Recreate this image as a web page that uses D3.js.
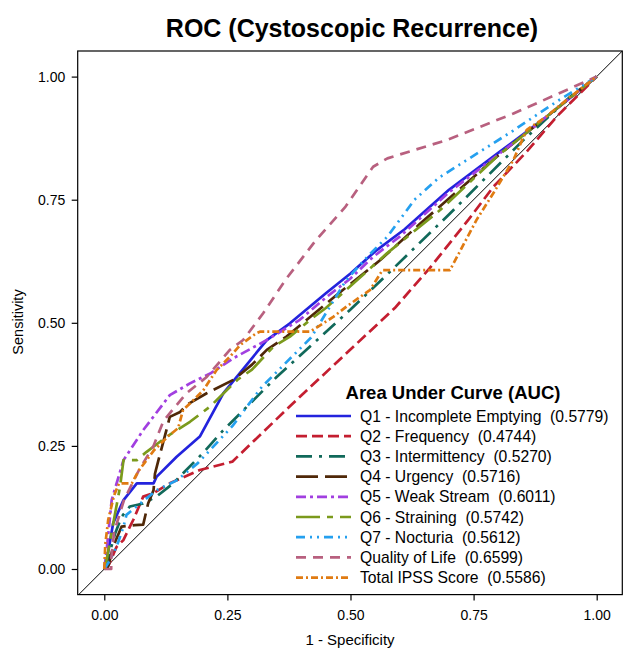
<!DOCTYPE html>
<html><head><meta charset="utf-8">
<script src="https://cdn.jsdelivr.net/npm/d3@7"></script>
<style>
body{margin:0;background:#fff}
text{font-family:"Liberation Sans",Arial,Helvetica,sans-serif;fill:#000}
</style>
</head><body>
<svg id="chart" width="623" height="649"></svg>
<script>
// ---- data ----
const seriesNames = ["Q1 - Incomplete Emptying","Q2 - Frequency","Q3 - Intermittency","Q4 - Urgency","Q5 - Weak Stream","Q6 - Straining","Q7 - Nocturia","Quality of Life","Total IPSS Score"];
const aucValues = ["0.5779","0.4744","0.5270","0.5716","0.6011","0.5742","0.5612","0.6599","0.5586"];
const tickValues = [0,0.25,0.5,0.75,1];
const tickLabels = ["0.00","0.25","0.50","0.75","1.00"];

const q1 = [[0,0],[0.005,0.018],[0.018,0.093],[0.039,0.14],[0.066,0.174],[0.1,0.174],[0.106,0.187],[0.147,0.228],[0.194,0.269],[0.242,0.357],[0.33,0.465],[0.377,0.499],[0.45,0.56],[0.5,0.6],[0.55,0.645],[0.61,0.69],[0.7,0.77],[0.8,0.845],[0.9,0.92],[1,1]];
const q2 = [[0,0],[0.01,0.01],[0.025,0.045],[0.039,0.059],[0.052,0.086],[0.059,0.1],[0.079,0.147],[0.1,0.154],[0.133,0.174],[0.194,0.201],[0.26,0.218],[0.39,0.343],[0.59,0.53],[0.66,0.61],[0.74,0.71],[0.79,0.776],[0.86,0.85],[0.92,0.92],[1,1]];
const q3 = [[0,0],[0.01,0.03],[0.022,0.072],[0.035,0.106],[0.052,0.127],[0.079,0.133],[0.106,0.147],[0.14,0.174],[0.2,0.235],[0.24,0.28],[0.35,0.39],[0.5,0.527],[0.57,0.594],[0.7,0.72],[0.85,0.87],[0.946,0.959],[1,1]];
const q4 = [[0,0],[0.008,0.005],[0.018,0.045],[0.035,0.086],[0.062,0.089],[0.079,0.09],[0.089,0.133],[0.1,0.16],[0.103,0.194],[0.11,0.221],[0.127,0.285],[0.133,0.309],[0.154,0.319],[0.167,0.333],[0.208,0.357],[0.262,0.384],[0.3,0.415],[0.33,0.445],[0.37,0.472],[0.47,0.555],[0.56,0.627],[0.64,0.7],[0.8,0.84],[1,1]];
const q5 = [[0,0],[0.005,0.04],[0.015,0.14],[0.039,0.221],[0.079,0.282],[0.133,0.353],[0.174,0.377],[0.215,0.397],[0.262,0.428],[0.33,0.465],[0.397,0.506],[0.452,0.553],[0.5,0.59],[0.546,0.634],[0.6,0.675],[0.7,0.765],[0.85,0.88],[1,1]];
const q6 = [[0,0],[0.005,0.02],[0.022,0.113],[0.032,0.167],[0.039,0.221],[0.066,0.221],[0.086,0.238],[0.127,0.269],[0.174,0.299],[0.215,0.33],[0.27,0.384],[0.3,0.405],[0.343,0.451],[0.377,0.472],[0.418,0.506],[0.45,0.53],[0.574,0.641],[0.682,0.729],[0.8,0.84],[0.9,0.92],[1,1]];
const q7 = [[0,0],[0.01,0.015],[0.025,0.045],[0.039,0.086],[0.045,0.11],[0.073,0.133],[0.106,0.16],[0.147,0.18],[0.19,0.215],[0.26,0.29],[0.32,0.37],[0.42,0.47],[0.49,0.585],[0.535,0.635],[0.575,0.675],[0.63,0.75],[0.68,0.795],[0.83,0.89],[0.92,0.95],[1,1]];
const qol = [[0,0],[0.014,0],[0.014,0.02],[0.02,0.075],[0.04,0.14],[0.07,0.2],[0.1,0.25],[0.12,0.3],[0.14,0.325],[0.167,0.357],[0.208,0.39],[0.255,0.445],[0.282,0.465],[0.323,0.52],[0.37,0.59],[0.43,0.668],[0.49,0.736],[0.546,0.817],[0.575,0.834],[0.695,0.871],[0.831,0.925],[1,1]];
const ipss = [[0,0],[0.002,0.05],[0.008,0.1],[0.02,0.15],[0.03,0.174],[0.056,0.174],[0.07,0.2],[0.1,0.24],[0.13,0.27],[0.15,0.286],[0.16,0.323],[0.174,0.336],[0.201,0.363],[0.228,0.404],[0.255,0.431],[0.276,0.455],[0.309,0.479],[0.316,0.482],[0.418,0.482],[0.465,0.512],[0.492,0.533],[0.54,0.567],[0.565,0.607],[0.702,0.607],[0.756,0.709],[0.79,0.763],[0.831,0.831],[0.858,0.892],[0.898,0.919],[0.939,0.953],[1,1]];
const seriesData = [q1,q2,q3,q4,q5,q6,q7,qol,ipss];

// ---- styles ----
const colors = ["#2323dd","#c41e30","#11695a","#4f2808","#a13fe0","#7b9a1c","#25a0ef","#b8607f","#e07b12"];
const dashes = ["none","11,5","16,7,3,7","22,7","10,4,3,4","24,7,6,7","9,5,2,5,2,5","10,7","7,3,2,3"];

const svg = d3.select("#chart");
const L = 77.7, R = 622.3, T = 51, B = 594.6;
const x = d3.scaleLinear().domain([-0.054,1.052]).range([L,R]);
const y = d3.scaleLinear().domain([-0.052,1.052]).range([B,T]);

// title
svg.append("text").attr("x",352).attr("y",37).attr("text-anchor","middle")
  .style("font-size","25px").style("font-weight","bold").text("ROC (Cystoscopic Recurrence)");

// clip
svg.append("clipPath").attr("id","clip").append("rect").attr("x",L).attr("y",T).attr("width",R-L).attr("height",B-T);

// diagonal
svg.append("line").attr("clip-path","url(#clip)")
  .attr("x1",x(-0.06)).attr("y1",y(-0.06)).attr("x2",x(1.06)).attr("y2",y(1.06))
  .attr("stroke","#000").attr("stroke-width",1);

// curves
const line = d3.line().x(d=>x(d[0])).y(d=>y(d[1]));
seriesData.forEach((s,i)=>{
  svg.append("path").datum(s).attr("d",line).attr("fill","none")
    .attr("stroke",colors[i]).attr("stroke-width",2.7)
    .attr("stroke-dasharray",dashes[i]).attr("stroke-linejoin","round");
});

// frame
svg.append("rect").attr("x",L).attr("y",T).attr("width",R-L).attr("height",B-T)
  .attr("fill","none").attr("stroke","#000").attr("stroke-width",1.2);

// axes
const fmt = d=>tickLabels[tickValues.indexOf(d)];
const gx = svg.append("g").attr("transform",`translate(0,${B})`)
  .call(d3.axisBottom(x).tickValues(tickValues).tickFormat(fmt).tickSize(6).tickPadding(9));
const gy = svg.append("g").attr("transform",`translate(${L},0)`)
  .call(d3.axisLeft(y).tickValues(tickValues).tickFormat(fmt).tickSize(6).tickPadding(6.5));
[gx,gy].forEach(g=>{
  g.select(".domain").remove();
  g.selectAll("line").attr("stroke","#000").attr("stroke-width",1.2);
  g.selectAll("text").style("font-size","14px").attr("fill","#000")
   .style("font-family",'"Liberation Sans",Arial,sans-serif');
});

// axis labels
svg.append("text").attr("x",350).attr("y",645).attr("text-anchor","middle").style("font-size","15px").text("1 - Specificity");
svg.append("text").attr("transform","translate(23,322) rotate(-90)").attr("text-anchor","middle").style("font-size","14.5px").text("Sensitivity");

// legend
const lg = svg.append("g");
lg.append("text").attr("x",453).attr("y",399).attr("text-anchor","middle")
  .style("font-size","18.5px").style("font-weight","bold").text("Area Under Curve (AUC)");
seriesNames.forEach((n,i)=>{
  const by = 421.5 + i*20.2;
  lg.append("line").attr("x1",296).attr("x2",351).attr("y1",by-5.5).attr("y2",by-5.5)
    .attr("stroke",colors[i]).attr("stroke-width",2.7).attr("stroke-dasharray",dashes[i]);
  lg.append("text").attr("x",360).attr("y",by).style("font-size","15.7px").style("white-space","pre")
    .text(n + "  (" + aucValues[i] + ")");
});
</script>
</body></html>
